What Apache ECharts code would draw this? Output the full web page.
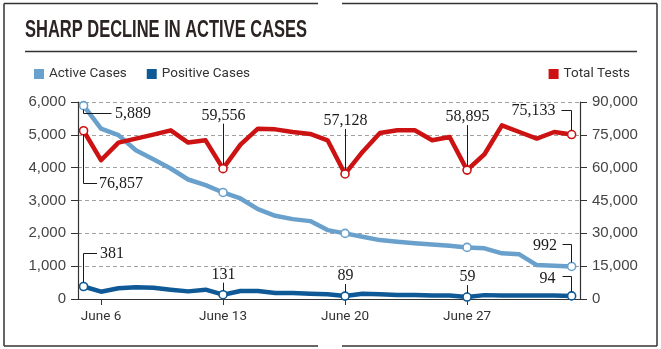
<!DOCTYPE html>
<html>
<head>
<meta charset="utf-8">
<script src="https://cdn.jsdelivr.net/npm/echarts@6/dist/echarts.min.js"></script>
<style>
  html, body { margin: 0; padding: 0; background: #fff; }
  #chart { width: 661px; height: 349px; }
</style>
</head>
<body>
<div id="chart"></div>
<script>
// Daily figures, June 5 to July 3
const dates = ['June 5', 'June 6', 'June 7', 'June 8', 'June 9', 'June 10', 'June 11', 'June 12',
  'June 13', 'June 14', 'June 15', 'June 16', 'June 17', 'June 18', 'June 19', 'June 20',
  'June 21', 'June 22', 'June 23', 'June 24', 'June 25', 'June 26', 'June 27', 'June 28',
  'June 29', 'June 30', 'July 1', 'July 2', 'July 3'];
const tickDates = ['June 6', 'June 13', 'June 20', 'June 27'];
const markedDates = ['June 5', 'June 13', 'June 20', 'June 27', 'July 3'];

const activeCases = [5889, 5190, 4990, 4530, 4258, 3975, 3640, 3467, 3245, 3062, 2737, 2534, 2433, 2372,
  2098, 1998, 1895, 1794, 1743, 1700, 1663, 1622, 1572, 1542, 1390, 1360, 1034, 1013, 992];
const positiveCases = [381, 222, 325, 356, 345, 283, 232, 283, 131, 243, 243, 182, 182, 162,
  142, 89, 162, 142, 122, 122, 104, 104, 59, 118, 104, 104, 104, 104, 94];
const totalTests = [76857, 63400, 71450, 73280, 75100, 77060, 71450, 72500, 59556, 70540, 77830, 77500,
  76300, 75400, 72500, 57128, 67170, 75850, 77060, 77060, 72500, 74020, 58895, 66120, 79340, 76300,
  73280, 76300, 75133];

const TITLE = 'SHARP DECLINE IN ACTIVE CASES';
const C_ACTIVE = '#6aa1cc';
const C_POS = '#0f5a96';
const C_TESTS = '#cc1212';
const NARROW = 'Roboto, "Liberation Sans", sans-serif';
const SANS = '"Liberation Sans", Arial, sans-serif';
const SERIF = '"Liberation Serif", "Times New Roman", serif';

const fmt = v => Number(v).toLocaleString('en-US');
const markIdx = markedDates.map(d => dates.indexOf(d));
const tickIdx = tickDates.map(d => dates.indexOf(d));

function seriesData(values, color) {
  return values.map((v, i) => markIdx.includes(i)
    ? { value: [i, v], symbol: 'circle', symbolSize: 8,
        itemStyle: { color: '#fff', borderColor: color, borderWidth: 1.6 } }
    : { value: [i, v], symbol: 'none' });
}

function lineSeries(name, values, color, yAxisIndex, z) {
  return {
    name, type: 'line', yAxisIndex, z, silent: true,
    data: seriesData(values, color),
    symbol: 'circle', showSymbol: true, showAllSymbol: true,
    color,
    lineStyle: { color, width: 4.5, cap: 'round', join: 'round' },
    itemStyle: { color },
    emphasis: { disabled: true }
  };
}

const chart = echarts.init(document.getElementById('chart'), null, { renderer: 'canvas' });

const legendText = { fontFamily: NARROW, fontSize: 13.5, color: '#333' };
const axisLine = { show: true, onZero: false, lineStyle: { color: '#333', width: 1.2 } };
const axisTick = { show: true, length: 7, lineStyle: { color: '#333', width: 1 } };
const valueLabel = { margin: 12, color: '#444', fontFamily: SANS, fontSize: 15, formatter: fmt };

chart.setOption({
  animation: false,
  backgroundColor: '#fff',
  grid: { left: 78, right: 81, top: 102, bottom: 50, containLabel: false, outerBoundsMode: 'none' },
  legend: [
    {
      left: 29, top: 62, icon: 'rect', itemWidth: 10, itemHeight: 10, itemGap: 20,
      selectedMode: false, textStyle: legendText,
      data: [
        { name: 'Active Cases', itemStyle: { color: C_ACTIVE } },
        { name: 'Positive Cases', itemStyle: { color: C_POS } }
      ]
    },
    {
      right: 26, top: 62, icon: 'rect', itemWidth: 10, itemHeight: 10,
      selectedMode: false, textStyle: legendText,
      data: [{ name: 'Total Tests', itemStyle: { color: C_TESTS } }]
    }
  ],
  xAxis: {
    type: 'value', min: -0.32, max: 28.48,
    axisLine,
    axisTick: { show: true, customValues: tickIdx, length: 6, lineStyle: { color: '#333', width: 1 } },
    axisLabel: {
      customValues: tickIdx, margin: 11, color: '#333', fontFamily: NARROW, fontSize: 13.5,
      formatter: v => dates[Math.round(v)]
    },
    splitLine: { show: false }
  },
  yAxis: [
    {
      type: 'value', min: 0, max: 6000, interval: 1000, position: 'left',
      axisLine, axisTick, axisLabel: valueLabel,
      splitLine: { show: true, lineStyle: { color: '#a0a0a0', width: 1, type: [4, 3] } }
    },
    {
      type: 'value', min: 0, max: 90000, interval: 15000, position: 'right',
      axisLine, axisTick, axisLabel: valueLabel,
      splitLine: { show: false }
    }
  ],
  series: [
    lineSeries('Active Cases', activeCases, C_ACTIVE, 0, 2),
    lineSeries('Positive Cases', positiveCases, C_POS, 0, 3),
    lineSeries('Total Tests', totalTests, C_TESTS, 1, 4)
  ]
});

// ---- Annotations, frame and heading ----
const INK = '#1a1a1a';
const graphics = [];
const crisp = v => Math.round(v - 0.5) + 0.5;

function segment(x1, y1, x2, y2, color, width) {
  graphics.push({
    type: 'line', silent: true, z: 100,
    shape: { x1, y1, x2, y2 },
    style: { stroke: color || INK, lineWidth: width || 1 }
  });
}
function path(points, color, width) {
  for (let k = 1; k < points.length; k++) {
    segment(points[k - 1][0], points[k - 1][1], points[k][0], points[k][1], color, width);
  }
}
function label(x, y, text, align) {
  graphics.push({
    type: 'text', silent: true, z: 101, x, y,
    style: {
      text, font: '16px ' + SERIF, fill: INK,
      align, verticalAlign: 'middle', textAlign: align, textVerticalAlign: 'middle'
    }
  });
}
const px = (seriesIndex, values, i) => chart.convertToPixel({ seriesIndex }, [i, values[i]]);
const R = 4;

// leader going out to the right of the first point
function elbowRight(seriesIndex, values, i, dy, len, gap) {
  const [x0, y] = px(seriesIndex, values, i);
  const x = crisp(x0);
  const hy = crisp(y + dy);
  const sy = y + (dy > 0 ? R : -R);
  path([[x, sy], [x, hy], [x + len, hy]]);
  label(x + len + gap, hy + 0.5, fmt(values[i]), 'left');
}
// leader going out to the left of the last point
function elbowLeft(seriesIndex, values, i, dy, len, gap, textDy) {
  const [x0, y] = px(seriesIndex, values, i);
  const x = crisp(x0);
  const hy = crisp(y + dy);
  path([[x, y - R], [x, hy], [x - len, hy]]);
  label(x - len - gap, hy + (textDy || 0), fmt(values[i]), 'right');
}
// label straight above a point
function above(seriesIndex, values, i, dy) {
  const [x0, y] = px(seriesIndex, values, i);
  const x = crisp(x0);
  path([[x, y + dy + 8], [x, y - R]]);
  label(x, y + dy, fmt(values[i]), 'center');
}

const first = markIdx[0];
const last = markIdx[markIdx.length - 1];
elbowRight(0, activeCases, first, 8, 28, 3.5);
elbowRight(2, totalTests, first, 52.5, 13.5, 2);
elbowRight(1, positiveCases, first, -33, 13.5, 3);

markIdx.slice(1, -1).forEach(i => {
  above(2, totalTests, i, -53);
  above(1, positiveCases, i, -20);
});

elbowLeft(2, totalTests, last, -24, 10, 6);
elbowLeft(0, activeCases, last, -22, 9, 5.5, 1);
elbowLeft(1, positiveCases, last, -19, 9, 7, 2.5);

// outer frame with a break top and bottom
path([[318, 3.5], [4, 3.5], [4, 346], [318, 346]], '#333', 1.5);
path([[342, 3.5], [657, 3.5], [657, 346], [342, 346]], '#333', 1.5);
// rule under the heading
segment(25, 51.5, 637, 51.5, '#333', 1.3);

// heading, squeezed to a condensed width
const ctx = document.createElement('canvas').getContext('2d');
const titleFont = 'bold 24.5px ' + SANS;
ctx.font = titleFont;
const titleScale = 282 / ctx.measureText(TITLE).width;
graphics.push({
  type: 'text', silent: true, z: 101, x: 25, y: 30.5, scaleX: titleScale,
  style: {
    text: TITLE, font: titleFont, fill: '#2c2422',
    align: 'left', verticalAlign: 'middle', textAlign: 'left', textVerticalAlign: 'middle'
  }
});

chart.setOption({ graphic: { elements: graphics } });
</script>
</body>
</html>
